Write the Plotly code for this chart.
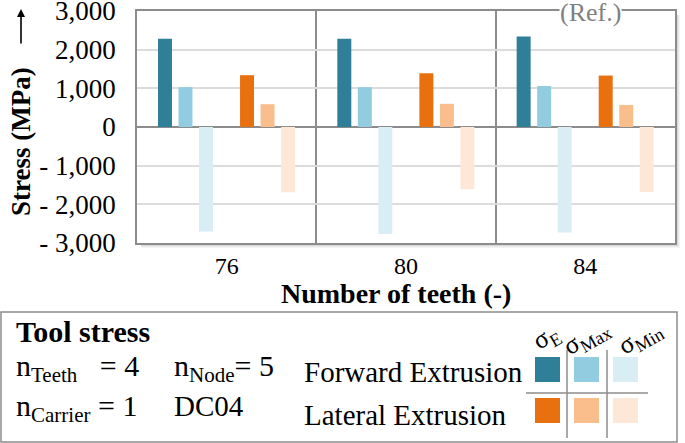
"""Tool stress per number of teeth, forward vs lateral extrusion."""
import plotly.graph_objects as go

# data
teeth = ["76", "80", "84"]
fwd_sigma_e = [2280, 2280, 2340]
fwd_sigma_max = [1030, 1030, 1060]
fwd_sigma_min = [-2700, -2770, -2730]
lat_sigma_e = [1340, 1390, 1330]
lat_sigma_max = [590, 600, 570]
lat_sigma_min = [-1690, -1610, -1680]

y_ticks = [-3000, -2000, -1000, 0, 1000, 2000, 3000]
y_ticktext = ["- 3,000", "- 2,000", "- 1,000", "0", "1,000", "2,000", "3,000"]

FONT = "Liberation Serif"
GREY = "#8c8c8c"

W, H = 685, 443
L, R, T, B = 137, 675, 11, 243


def px(x):
    return (x - L) / (R - L)


def py(y):
    return (B - y) / (B - T)


series = [
    ("σE forward", fwd_sigma_e, "#2e7f97", 0),
    ("σMax forward", fwd_sigma_max, "#92cce0", 1),
    ("σMin forward", fwd_sigma_min, "#d9edf5", 2),
    ("σE lateral", lat_sigma_e, "#e8700f", 4),
    ("σMax lateral", lat_sigma_max, "#f9be8c", 5),
    ("σMin lateral", lat_sigma_min, "#fde8d8", 6),
]

slot = 0.1144
bar_w = 0.078
first = -0.383

fig = go.Figure()
for name, vals, color, pos in series:
    fig.add_trace(go.Bar(
        x=teeth, y=vals, name=name,
        marker=dict(color=color, line=dict(width=0)),
        width=bar_w, offset=first + pos * slot,
    ))

shapes = []
# drop shadow under / right of the frame
for i, op in enumerate([0.32, 0.22, 0.13, 0.06]):
    shapes.append(dict(type="rect", xref="paper", yref="paper",
                       x0=px(L + 4), x1=px(R + 1 + i), y0=py(B + 1 + i), y1=py(B + 2 + i),
                       fillcolor="#555", opacity=op, line_width=0, layer="below"))
    shapes.append(dict(type="rect", xref="paper", yref="paper",
                       x0=px(R + 1 + i), x1=px(R + 2 + i), y0=py(T + 4), y1=py(B + 2 + i),
                       fillcolor="#555", opacity=op, line_width=0, layer="below"))

# legend box
shapes.append(dict(type="rect", xref="paper", yref="paper",
                   x0=px(1), x1=px(677), y0=py(312), y1=py(442),
                   line=dict(color=GREY, width=1.5), fillcolor="white", layer="below"))

sq_x = [535, 574, 613]
sq_y = [357, 398]
for r, row in enumerate([series[:3], series[3:]]):
    for c, s in enumerate(row):
        shapes.append(dict(type="rect", xref="paper", yref="paper",
                           x0=px(sq_x[c]), x1=px(sq_x[c] + 25),
                           y0=py(sq_y[r]), y1=py(sq_y[r] + 25),
                           fillcolor=s[2], line_width=0))
# legend grid lines
for gx in [567, 607]:
    shapes.append(dict(type="line", xref="paper", yref="paper",
                       x0=px(gx), x1=px(gx), y0=py(350), y1=py(438),
                       line=dict(color=GREY, width=1.5)))
shapes.append(dict(type="line", xref="paper", yref="paper",
                   x0=px(526), x1=px(648), y0=py(393), y1=py(393),
                   line=dict(color=GREY, width=1.5)))


def note(text, x, y, size, anchor="left", **kw):
    return dict(text=text, x=px(x), y=py(y), xref="paper", yref="paper",
                showarrow=False, font=dict(family=FONT, size=size, color=kw.pop("color", "black")),
                xanchor=anchor, yanchor="middle", **kw)


annotations = [
    note("(Ref.)", 590, 13, 26, "center", color="#808080", bgcolor="white", borderpad=0),
    note("<b>Stress (MPa)</b>", 21, 142, 27, "center", textangle=-90),
    dict(text="", x=px(21), y=py(9), xref="paper", yref="paper", ax=0, ay=36,
         showarrow=True, arrowhead=2, arrowsize=1, arrowwidth=1.6, arrowcolor="black"),
    note("<b>Number of teeth (-)</b>", 396, 293, 28, "center"),
    note("<b>Tool stress</b>", 14, 331, 30),
    note("n<sub>Teeth</sub>   = 4", 14, 368, 30),
    note("n<sub>Node</sub>= 5", 172, 368, 30),
    note("n<sub>Carrier</sub> = 1", 14, 408, 30),
    note("DC04", 172, 406, 29),
    note("Forward Extrusion", 302, 372, 29),
    note("Lateral Extrusion", 302, 415, 29),
]
for hx, lbl in zip([546, 586, 640], ["σ<sub>E</sub>", "σ<sub>Max</sub>", "σ<sub>Min</sub>"]):
    annotations.append(note(lbl, hx, 338, 26, "center", textangle=-30))

fig.update_layout(
    width=W, height=H,
    margin=dict(l=L, r=W - R, t=T, b=H - B),
    paper_bgcolor="white", plot_bgcolor="white",
    font=dict(family=FONT, color="black"),
    barmode="overlay", showlegend=False,
    shapes=shapes, annotations=annotations,
    xaxis=dict(
        type="category", tickson="boundaries", showgrid=True,
        gridcolor=GREY, gridwidth=1.5, automargin=False,
        showline=True, mirror=True, linecolor=GREY, linewidth=1.5,
        ticks="outside", ticklen=12, tickcolor="rgba(0,0,0,0)",
        tickfont=dict(family=FONT, size=24), range=[-0.5, 2.5],
    ),
    yaxis=dict(
        range=[-3000, 3000], tickvals=y_ticks, ticktext=y_ticktext,
        showgrid=True, gridcolor="#dcdcdc", gridwidth=1.5, automargin=False,
        zeroline=True, zerolinecolor=GREY, zerolinewidth=1.5,
        showline=True, mirror=True, linecolor=GREY, linewidth=1.5,
        ticks="outside", ticklen=14, tickcolor="rgba(0,0,0,0)",
        tickfont=dict(family=FONT, size=27), ticklabeloverflow="allow",
    ),
)

fig.write_html("out.html", config={"displayModeBar": False},
               post_script="document.body.style.margin='0';")
